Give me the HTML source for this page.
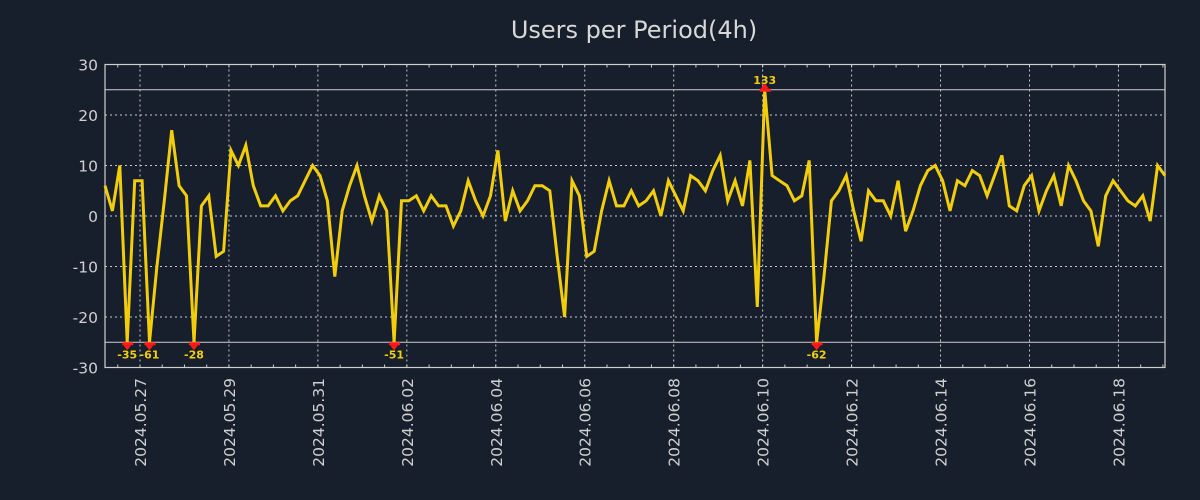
<!DOCTYPE html>
<html><head><meta charset="utf-8"><style>
html,body{margin:0;padding:0;background:#161f2b;}
svg{display:block;font-family:"DejaVu Sans","Liberation Sans",sans-serif;}
</style></head><body>
<svg id="chart" width="1200" height="500">
<rect width="1200" height="500" fill="#161f2b"/>
<text x="634" y="38" text-anchor="middle" font-size="24" fill="#d8d8d8">Users per Period(4h)</text>
<g id="grid"></g><g id="axes"></g><g id="series"></g><g id="markers"></g>
</svg>
<script>
const values = [6,1,10,-35,7,7,-61,-10,3,17,6,4,-28,2,4,-8,-7,13,10,14,6,2,2,4,1,3,4,7,10,8,3,-12,1,6,10,4,-1,4,1,-51,3,3,4,1,4,2,2,-2,1,
7,3,0,4,13,-1,5,1,3,6,6,5,-8,-20,7,4,-8,-7,1,7,2,2,5,2,3,5,0,7,4,1,8,7,5,9,12,3,7,2,11,-18,133,8,7,6,3,4,11,
-62,-12,3,5,8,1,-5,5,3,3,0,7,-3,1,6,9,10,7,1,7,6,9,8,4,8,12,2,1,6,8,1,5,8,2,10,7,3,1,-6,4,7,5,3,2,4,-1,10,8];
const dateLabels = ["2024.05.27","2024.05.29","2024.05.31","2024.06.02","2024.06.04","2024.06.06","2024.06.08","2024.06.10","2024.06.12","2024.06.14","2024.06.16","2024.06.18"];
const firstTickIndex = 4.72;
const yTicks = [-30,-20,-10,0,10,20,30];
const clipLimit = 25;

const NS="http://www.w3.org/2000/svg";
const L=105,R=1165,T=64.5,B=367.5;
const xS=i=>L+(R-L)*i/(values.length-1);
const yS=v=>216-v*5.05;
function mk(tag,attrs,parent){const e=document.createElementNS(NS,tag);for(const k in attrs)e.setAttribute(k,attrs[k]);parent.appendChild(e);return e;}
const grid=document.getElementById('grid'),axes=document.getElementById('axes'),series=document.getElementById('series'),markers=document.getElementById('markers');

yTicks.forEach(v=>{
  const y=yS(v);
  if(v>-30&&v<30){const g=mk('line',{x1:L,x2:R,y1:y,y2:y,stroke:'#c8c8c8','stroke-width':1,'stroke-dasharray':'2,3'},grid);
  
  }
  const t=mk('text',{x:98,y:y+6,'text-anchor':'end','font-size':15.5,fill:'#d0d0d0'},axes);
  t.textContent=v;
  
  
});
dateLabels.forEach((d,k)=>{
  const x=xS(firstTickIndex+12*k);
  const g=mk('line',{x1:x,x2:x,y1:T,y2:B,stroke:'#c8c8c8','stroke-width':1,'stroke-dasharray':'2,3'},grid);
  
  
  const t=mk('text',{x:0,y:0,'text-anchor':'end','font-size':15.5,fill:'#d0d0d0',transform:`translate(${x+6},378) rotate(-90)`},axes);
  t.textContent=d;
  
  
});
for(let k=-1;k<50;k++){const x=xS(firstTickIndex+3*k);if(x<L||x>R)continue;
  mk('line',{x1:x,x2:x,y1:B,y2:B-3,stroke:'#d0d0d0'},axes);mk('line',{x1:x,x2:x,y1:T,y2:T+3,stroke:'#d0d0d0'},axes);}
[clipLimit,-clipLimit].forEach(v=>{const l=mk('line',{x1:L,x2:R,y1:yS(v),y2:yS(v),stroke:'#d0d0d0','stroke-width':1},grid);
  
  });
const fr=mk('rect',{x:L,y:T,width:R-L,height:B-T,fill:'none',stroke:'#d0d0d0','stroke-width':1.2},axes);



const pts=values.map((v,i)=>xS(i).toFixed(1)+','+yS(Math.max(-clipLimit,Math.min(clipLimit,v))).toFixed(1)).join(' ');
const pl=mk('polyline',{points:pts,fill:'none',stroke:'#f2cd0c','stroke-width':3,'stroke-linejoin':'miter'},series);



values.forEach((v,i)=>{
  if(Math.abs(v)<=clipLimit)return;
  const x=xS(i),up=v>0,y=yS(up?clipLimit:-clipLimit);
  const g=mk('g',{},markers);
  
  
  if(up){mk('rect',{x:x-5,y:y-1,width:11,height:3,fill:'#ff1a1a'},g);mk('polygon',{points:`${x-4},${y-1} ${x+4},${y-1} ${x},${y-7}`,fill:'#ff1a1a'},g);}
  else{mk('rect',{x:x-5,y:y,width:11,height:3,fill:'#ff1a1a'},g);mk('polygon',{points:`${x-4},${y+3} ${x+4},${y+3} ${x},${y+8}`,fill:'#ff1a1a'},g);}
  const t=mk('text',{x:x,y:up?y-6:y+16,'text-anchor':'middle','font-size':11,'font-weight':'bold',fill:'#f2cd0c'},g);
  t.textContent=v;
  
  
});
</script>
</body></html>
